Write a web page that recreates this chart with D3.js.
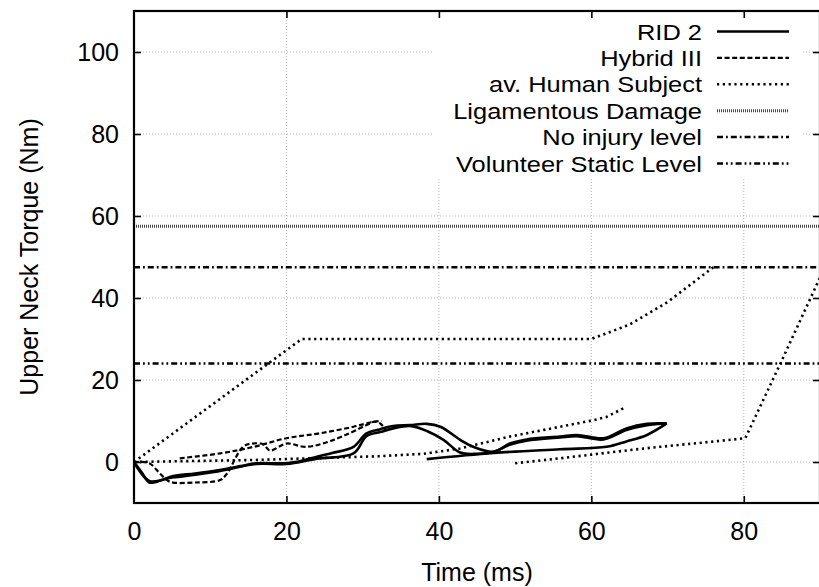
<!DOCTYPE html>
<html><head><meta charset="utf-8">
<script src="https://cdn.jsdelivr.net/npm/d3@7"></script>
<style>
body{margin:0;background:#fff}
svg{display:block}
text{font-family:"Liberation Sans",Arial,Helvetica,sans-serif;fill:#000}
</style>
</head><body>
<svg id="c" width="819" height="587"></svg>
<script>
// ---- data ----
const xTicks = [0, 20, 40, 60, 80];
const yTicks = [0, 20, 40, 60, 80, 100];
const xLabel = "Time (ms)";
const yLabel = "Upper Neck Torque (Nm)";
const legendLabels = ["RID 2", "Hybrid III", "av. Human Subject", "Ligamentous Damage", "No injury level", "Volunteer Static Level"];

// RID 2 (solid) curves [time, torque]
const rid2A = [[0,0],[1,-2.5],[2,-5],[3,-4.8],[5,-3.5],[8,-2.8],[11,-2],[14,-1],[16,-0.3],[20,-0.3],[22,0.3],[24,1.3],[26,2.2],[28.8,3.7],[30.5,7],[32.3,8],[34,8.8],[36.2,9],[38.4,9.3],[40.2,8.6],[42.8,5.4],[44.5,3.7],[47.2,2.5],[49.3,4.5],[51.5,5.5],[55.9,6.2],[58.1,6.6],[61.6,5.8],[64.6,8.2],[67.3,9.3],[69.9,9.4]];
const rid2B = [[0,0],[2,-4.6],[5,-3.8],[11,-2.3],[16,-0.5],[20,-0.5],[24,0.8],[28.8,2.1],[30.5,6.3],[32.3,7.3],[34,8.2],[36.2,8.8],[38.5,7.5],[40.6,5.4],[42.8,2.3],[45,2],[47.2,2.5],[49.3,4.2],[51.5,5.2],[55.9,6],[58.1,6.3],[61.6,5.5],[64.6,7.8],[67.3,9],[69.9,9.4]];
const rid2C = [[38.4,0.7],[47.2,2.2],[55.9,3.1],[62,3.7],[64.6,5],[67.3,6.6],[69.9,9.4]];

// Hybrid III (dashed)
const hybridA = [[0,0],[2,-0.3],[3.5,-3],[4.7,-4.8],[8,-5],[11.3,-4.4],[12.2,-2.8],[14.3,3.7],[15.5,4.5],[17,4.3],[17.8,2.8],[20,4.5],[22.6,3.7],[26.2,5.4],[30.5,9],[31.4,9.8],[32.3,9.4],[33,7.8]];
const hybridB = [[6,0.9],[11.3,2.1],[15.7,3.7],[20,5.8],[24.4,7],[28.8,8.6],[31.4,9.8],[32.5,10]];

// av. Human Subject (dotted)
const humanUpper = [[0,0],[22,30],[60,30],[65,33.5],[70,39],[76,47.5]];
const humanMid = [[0,0],[16,0.5],[32,1.4],[38,2],[42.8,3.3],[49.3,6.2],[55.9,8.6],[60.3,10.2],[62,11],[64.2,13.1]];
const humanLower = [[50,-0.3],[55.9,0.9],[60,1.8],[65,2.9],[69,3.7],[75,4.8],[80.2,5.8],[84.8,24],[90.5,47]];

// threshold levels (Nm)
const ligamentousLevel = 57.5;
const noInjuryLevel = 47.5;
const volunteerLevel = 24;

// ---- styles ----
const styles = {
  "RID 2": {w: 2.6, dash: null, color: "#000", smooth: true},
  "Hybrid III": {w: 2.2, dash: "5,2.6", color: "#000", smooth: true},
  "av. Human Subject": {w: 2.6, dash: "2.2,3.6", color: "#000", smooth: false},
  "Ligamentous Damage": {w: 3, dash: "1,1", color: "#444", smooth: false},
  "No injury level": {w: 2.5, dash: "6,3,1.8,3", color: "#000", smooth: false},
  "Volunteer Static Level": {w: 2.5, dash: "6,3,1.8,3,1.8,3", color: "#000", smooth: false}
};

const svg = d3.select("#c");
const L = 134, R = 820, T = 11, B = 503;
const x = d3.scaleLinear().domain([0, 90]).range([L, R]);
const y = d3.scaleLinear().domain([-10, 110]).range([B, T]);

svg.append("rect").attr("width", 819).attr("height", 587).attr("fill", "#fff");

// grid
const grid = svg.append("g").attr("stroke", "#b5b5b5").attr("stroke-width", 1).attr("stroke-dasharray", "1,2");
grid.selectAll(".gx").data(xTicks.filter(d => d > 0)).join("line")
  .attr("x1", d => x(d)).attr("x2", d => x(d)).attr("y1", T).attr("y2", B);
grid.selectAll(".gy").data(yTicks).join("line")
  .attr("x1", L).attr("x2", R).attr("y1", d => y(d)).attr("y2", d => y(d));

// key blank area
svg.append("rect").attr("x", 434).attr("y", 12).attr("width", 369).attr("height", 165).attr("fill", "#fff");

svg.append("clipPath").attr("id", "clip").append("rect")
  .attr("x", L).attr("y", T).attr("width", R - L).attr("height", B - T);
const plot = svg.append("g").attr("clip-path", "url(#clip)");

const lineStraight = d3.line().x(d => x(d[0])).y(d => y(d[1]));
const lineSmooth = d3.line().x(d => x(d[0])).y(d => y(d[1])).curve(d3.curveCatmullRom.alpha(0.5));
function draw(data, name) {
  const s = styles[name];
  plot.append("path").datum(data).attr("d", s.smooth ? lineSmooth : lineStraight)
    .attr("fill", "none").attr("stroke", s.color).attr("stroke-width", s.w)
    .attr("stroke-dasharray", s.dash).attr("stroke-linejoin", "round");
}
[[ligamentousLevel, "Ligamentous Damage"], [noInjuryLevel, "No injury level"], [volunteerLevel, "Volunteer Static Level"]]
  .forEach(([v, n]) => draw([[0, v], [90, v]], n));
[humanUpper, humanMid, humanLower].forEach(d => draw(d, "av. Human Subject"));
[hybridA, hybridB].forEach(d => draw(d, "Hybrid III"));
[rid2A, rid2B, rid2C].forEach(d => draw(d, "RID 2"));

// axes
const fs = 25;
const ax = svg.append("g").attr("transform", `translate(0,${B})`)
  .call(d3.axisBottom(x).tickValues(xTicks).tickSize(-7).tickPadding(19));
const ay = svg.append("g").attr("transform", `translate(${L},0)`)
  .call(d3.axisLeft(y).tickValues(yTicks).tickSize(-7).tickPadding(15));
const at = svg.append("g").attr("transform", `translate(0,${T})`)
  .call(d3.axisTop(x).tickValues(xTicks.filter(d => d > 0)).tickSize(-7).tickFormat(""));
const ar = svg.append("g").attr("transform", `translate(${R},0)`)
  .call(d3.axisRight(y).tickValues(yTicks).tickSize(-7).tickFormat(""));
[ax, ay, at, ar].forEach(g => {
  g.select(".domain").remove();
  g.selectAll(".tick line").attr("stroke", "#000").attr("stroke-width", 1.6);
  g.selectAll("text").attr("font-size", fs).attr("font-family", null);
});
ax.selectAll(".tick").filter(d => d === 0).select("line").remove();

svg.append("rect").attr("x", L).attr("y", T).attr("width", R - L).attr("height", B - T)
  .attr("fill", "none").attr("stroke", "#000").attr("stroke-width", 2.2);

svg.append("text").attr("x", (L + R) / 2).attr("y", 581).attr("text-anchor", "middle")
  .attr("font-size", fs).text(xLabel);
svg.append("text").attr("transform", `translate(38,${(T + B) / 2}) rotate(-90)`)
  .attr("text-anchor", "middle").attr("font-size", fs).text(yLabel);

// legend
const lg = svg.append("g");
legendLabels.forEach((name, i) => {
  const ry = 31.5 + i * 26.4;
  const s = styles[name];
  const t = lg.append("text").attr("x", 702).attr("y", ry + 8).attr("text-anchor", "end")
    .attr("font-size", 22.5).text(name);
  const w = t.node().getComputedTextLength();
  t.attr("textLength", w * 1.13).attr("lengthAdjust", "spacingAndGlyphs");
  lg.append("line").attr("x1", 717).attr("x2", 789).attr("y1", ry).attr("y2", ry)
    .attr("stroke", s.color).attr("stroke-width", s.w).attr("stroke-dasharray", s.dash);
});
</script>
</body></html>
